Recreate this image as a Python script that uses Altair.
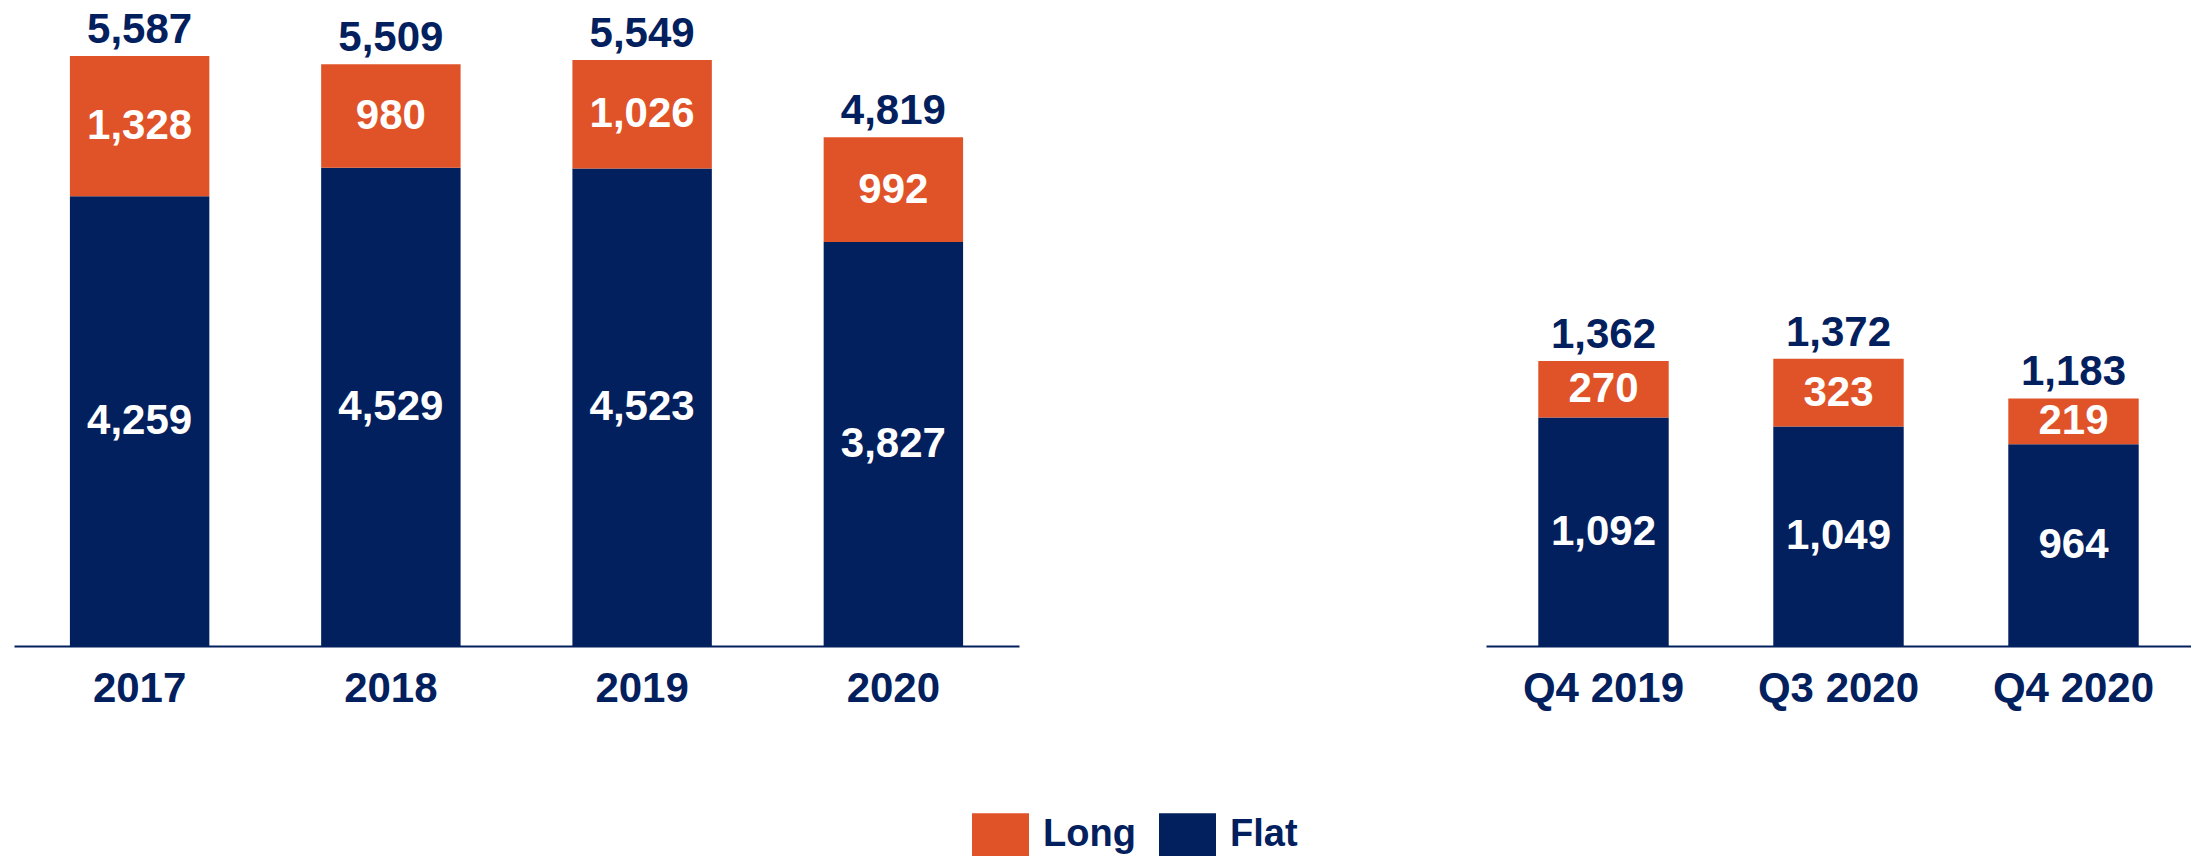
import altair as alt
import pandas as pd

# ---- data ----
years = ["2017", "2018", "2019", "2020"]
years_flat = [4259, 4529, 4523, 3827]
years_long = [1328, 980, 1026, 992]

quarters = ["Q4 2019", "Q3 2020", "Q4 2020"]
quarters_flat = [1092, 1049, 964]
quarters_long = [270, 323, 219]

series = ["Long", "Flat"]
series_colors = ["#E05328", "#03205E"]
NAVY = "#03205E"
FONT = "Liberation Sans"


def make_df(cats, flat, long_):
    rows = []
    for c, f, l in zip(cats, flat, long_):
        rows.append({"period": c, "type": "Flat", "ord": 0, "value": f})
        rows.append({"period": c, "type": "Long", "ord": 1, "value": l})
    return pd.DataFrame(rows)


def panel(cats, flat, long_, width, ymax):
    df = make_df(cats, flat, long_)
    base = alt.Chart(df).transform_stack(
        stack="value", as_=["v0", "v1"], groupby=["period"],
        sort=[alt.SortField("ord", order="ascending")]
    ).transform_calculate(mid="(datum.v0 + datum.v1) / 2")

    x = alt.X("period:N", sort=cats, title=None,
              scale=alt.Scale(paddingInner=0.445, paddingOuter=0.2225),
              axis=alt.Axis(domainColor=NAVY, domainWidth=2, ticks=False, tickSize=0,
                            labelAngle=0, labelFont=FONT, labelFontWeight="bold",
                            labelFontSize=42, labelColor=NAVY, labelPadding=22,
                            grid=False))
    yscale = alt.Scale(domain=[0, ymax])

    bars = base.mark_bar().encode(
        x=x,
        y=alt.Y("v0:Q", scale=yscale, axis=None),
        y2="v1:Q",
        color=alt.Color("type:N", scale=alt.Scale(domain=series, range=series_colors),
                        legend=alt.Legend(orient="none", legendX=958, legendY=798,
                                          direction="horizontal", title=None,
                                          symbolType="M-1,-0.75H1V0.75H-1Z",
                                          symbolSize=3249, symbolStrokeWidth=0,
                                          symbolOpacity=1,
                                          labelFont=FONT, labelFontWeight="bold",
                                          labelFontSize=38, labelColor=NAVY,
                                          labelOffset=14, columnPadding=23,
                                          padding=0)),
    )
    seg = base.mark_text(font=FONT, fontWeight="bold", fontSize=42, color="white",
                         baseline="middle").encode(
        x=x,
        y=alt.Y("mid:Q", scale=yscale, axis=None),
        text=alt.Text("value:Q", format=",.0f"),
    )
    tot = alt.Chart(df).transform_aggregate(
        total="sum(value)", groupby=["period"]
    ).mark_text(font=FONT, fontWeight="bold", fontSize=42, color=NAVY,
                baseline="alphabetic", dy=-13).encode(
        x=x,
        y=alt.Y("total:Q", scale=yscale, axis=None),
        text=alt.Text("total:Q", format=",.0f"),
    )
    return alt.layer(bars, seg, tot).properties(width=width, height=638)


left = panel(years, years_flat, years_long, 1005, 6042)
right = panel(quarters, quarters_flat, quarters_long, 705, 3048)

chart = alt.hconcat(left, right, spacing=467).resolve_scale(
    x="independent", y="independent"
).properties(
    padding={"left": 6, "top": 0, "right": 0, "bottom": 0},
    background="white",
).configure_view(strokeWidth=0, stroke="transparent")

chart.save("out.html", embed_options={"renderer": "svg", "actions": False})
